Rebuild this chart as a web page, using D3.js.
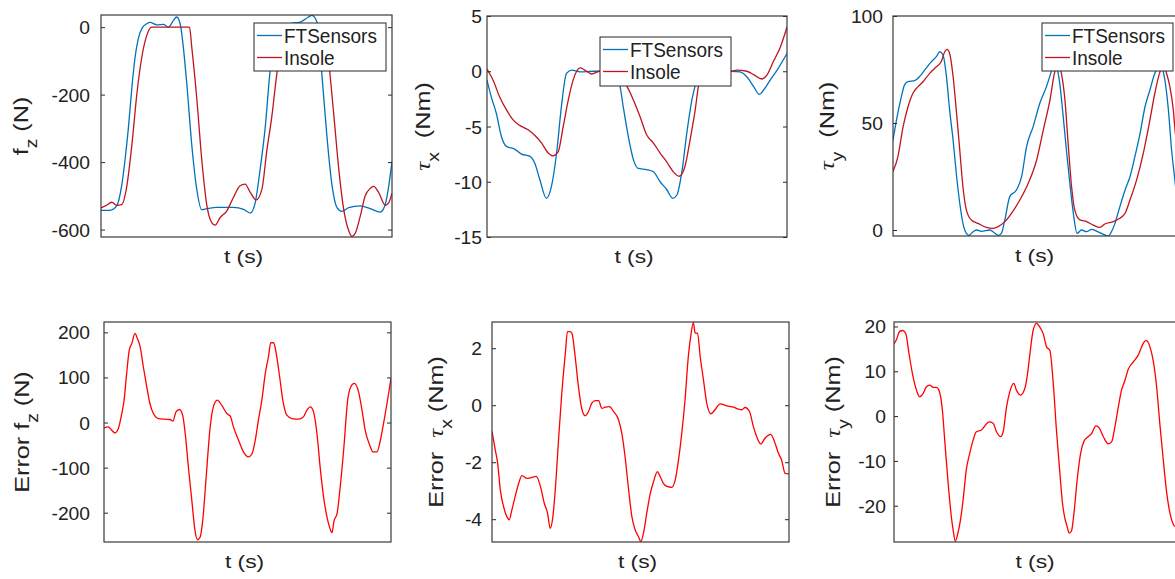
<!DOCTYPE html>
<html>
<head>
<meta charset="utf-8">
<script src="https://cdn.jsdelivr.net/npm/d3@7"></script>
<style>
  body { margin: 0; background: #fff; }
  text { font-family: "Liberation Sans", Arial, sans-serif; fill: #222; }
</style>
</head>
<body>
<svg id="fig"></svg>
<script>
// time is in % of the plotted window

var fzFT = [[0,-543],[3.1,-543],[5.4,-530],[7.1,-470],[8.3,-390],[9.4,-300],[10.6,-180],[11.7,-90],[12.8,-35],[14.3,0],
  [15.7,10],[16.9,14],[19.2,7],[21.4,8],[23.2,0],[24.9,20],[26.0,30],[27.2,10],[28.3,-60],[29.5,-170],
  [31.2,-350],[32.9,-480],[34.6,-541],[36.4,-538],[39.8,-534],[45.5,-534],[49.0,-540],[51.3,-551],[53.0,-520],[54.7,-420],
  [56.4,-300],[58.1,-132],[59.9,-40],[62.2,0],[65.0,10],[68.5,15],[71.3,30],[72.5,35],[74.2,15],[75.9,-140],
  [77.6,-320],[79.4,-470],[81.1,-535],[82.8,-546],[85.1,-535],[89.1,-530],[92.5,-538],[96.0,-548],[97.7,-525],[98.9,-470],[100,-398]];
var fzInsole = [[0,-536],[1.9,-528],[3.7,-519],[5.4,-528],[7.1,-526],[8.8,-475],[10.6,-350],[12.3,-200],[14.0,-90],[15.7,-25],
  [17.4,0],[30.4,0],[31.2,-60],[32.9,-210],[34.6,-390],[36.4,-530],[38.1,-580],[39.2,-587],[40.9,-565],[43.2,-545],
  [45.5,-505],[47.8,-470],[49.5,-465],[51.3,-490],[53.3,-512],[55.3,-480],[57.0,-365],[58.7,-265],[60.4,-140],[62.2,-40],
  [63.9,0],[76.5,0],[78.2,-100],[80.0,-260],[81.7,-420],[83.4,-540],[85.2,-605],[86.2,-620],[87.4,-610],[89.1,-560],
  [90.8,-500],[92.5,-478],[93.7,-472],[95.4,-490],[97.7,-528],[98.9,-520],[100,-492]];

var txFT = [[0,-0.8],[1.4,-2.3],[3.1,-3.8],[4.8,-5.9],[6.5,-6.8],[9.2,-7.05],[11.5,-7.5],[14.3,-7.7],[15.9,-8.3],[17.6,-9.8],
  [19.8,-11.5],[21.5,-10.4],[23.2,-7.4],[24.8,-3.2],[26.5,-0.2],[28.2,0.1],[31.0,-0.05],[35.4,0],[39.9,0],[42.7,-0.35],
  [44.3,-1.3],[45.4,-3.2],[47.1,-5.9],[48.8,-8.0],[50.4,-8.8],[53.2,-8.9],[55.5,-9.1],[57.7,-10.0],[59.9,-10.7],[61.9,-11.5],
  [63.3,-11.2],[64.9,-9.2],[66.6,-5.6],[68.3,-2.6],[69.4,-1.3],[71.0,-0.2],[74.4,0],[81.4,0],[84.4,-0.05],[86.6,-0.5],
  [88.9,-1.4],[90.8,-2.1],[92.2,-1.7],[94.4,-0.8],[96.7,0.1],[100,1.6]];
var txInsole = [[0,0.2],[2.0,-0.8],[4.2,-2.3],[6.5,-3.5],[8.7,-4.4],[10.9,-4.9],[13.7,-5.3],[15.9,-5.8],[18.2,-6.5],[20.4,-7.4],
  [22.0,-7.65],[23.7,-7.3],[25.4,-5.0],[27.1,-2.6],[28.7,-0.8],[31.0,0.3],[32.6,0.1],[34.9,-0.25],[37.6,0],[41.0,0],
  [43.2,-0.3],[44.9,-0.8],[46.5,-1.3],[48.8,-2.6],[51.0,-4.1],[53.2,-5.75],[55.5,-6.5],[57.7,-7.4],[59.9,-8.2],[62.1,-9.1],
  [64.1,-9.5],[66.0,-8.6],[67.7,-6.2],[69.4,-3.5],[70.5,-1.3],[72.2,0],[81.4,0],[83.3,0.1],[86.6,0],[88.9,-0.3],
  [91.6,-0.7],[93.3,-0.35],[95.5,0.9],[97.8,2.2],[100,4.0]];

var tyFT = [[0,42],[1.2,51.4],[2.9,62.3],[4.0,67.8],[5.2,69.3],[7.5,69.8],[9.2,71.7],[11.0,74.8],[13.3,78.7],[15.0,81],
  [16.2,83.3],[17.3,81.8],[18.5,71.7],[19.6,56],[20.8,42],[21.9,26.5],[23.1,12.5],[24.2,3.1],[25.4,-1.6],[26.3,-2.5],
  [27.7,-0.8],[28.9,0],[30.6,-0.6],[33.5,0],[34.6,-0.8],[36.4,-2.5],[37.5,-1.6],[38.7,4.7],[40.4,15.6],[42.7,18.7],
  [44.5,24.9],[46.2,38.9],[48.5,48.3],[50.8,59.2],[53.1,67],[54.8,74],[56.0,78],[57.2,73],[57.7,68.5],[58.9,53],
  [60.0,37.4],[61.2,21.8],[62.4,7.8],[63.7,-1.6],[65.2,0],[67.0,-0.8],[68.7,0.3],[70.4,-0.5],[73.3,-2.3],[74.5,-2.8],
  [75.6,-0.8],[76.8,3.1],[78.5,10.9],[80.3,18.7],[82.0,24.9],[83.7,34.3],[85.5,45.2],[87.2,57.6],[88.9,65.4],[90.6,73.2],
  [92.4,77],[93.5,74],[95.3,56],[96.4,37.4],[97.6,22.6],[98.7,8],[100,0]];
var tyInsole = [[0,27.3],[1.7,34.3],[3.5,48.3],[5.2,57.6],[6.9,63.9],[8.7,67],[10.4,69.3],[12.7,73.2],[15.0,76.3],[16.7,78.7],
  [17.9,83.3],[18.7,84.4],[19.6,82.5],[20.8,71.7],[21.9,56],[23.1,37.4],[24.2,20.2],[25.4,9.3],[27.1,4.7],[29.4,3.1],
  [32.3,1.2],[34.6,0.8],[36.4,1.6],[38.7,3.9],[41.0,7.8],[43.9,14],[46.8,21.8],[49.7,32.7],[52.0,46.7],[54.3,60.7],
  [56.0,74],[57.2,77],[58.3,73],[59.5,60.7],[60.6,40.5],[61.8,20.2],[62.9,9.3],[64.7,4.7],[67.0,3.9],[69.3,2.3],
  [71.6,1.2],[73.3,2.8],[76.2,3.9],[78.5,5.5],[80.3,7.8],[82.0,14],[84.3,23.4],[86.6,35.8],[88.9,51.4],[90.6,63.9],
  [92.4,74],[93.5,77],[94.7,73],[95.8,67],[97.0,56],[97.6,46.7],[98.7,35],[100,25]];

var errFz = [[0,-11.9],[1.5,-9.6],[2.7,-17],[3.8,-23],[5.0,-13.3],[6.2,20],[7.0,49.6],[7.9,108.9],[8.8,160.7],[9.7,175.6],
  [10.8,197.8],[11.6,186.7],[12.6,168],[13.7,123.7],[14.9,79.3],[16.0,42.2],[17.2,20],[19.0,8.9],[21.3,7.4],[23.0,6.7],
  [24.0,3],[25.1,23.7],[26.3,28.9],[27.4,16.3],[28.3,-24.4],[29.4,-98.5],[30.6,-172.6],[31.7,-239.3],[32.6,-260],[33.5,-254],
  [34.4,-217],[35.6,-120.7],[37.0,-9.6],[38.1,34.8],[39.5,49.6],[41.0,38.5],[42.8,20],[44.0,14],[45.1,-9.6],[46.9,-39.3],
  [48.6,-65.2],[50.3,-76.3],[51.5,-70.4],[52.7,-39.3],[53.8,5.2],[55.0,49.6],[56.2,108.9],[57.3,145.9],[58.1,177],[59.1,177],
  [60.0,153.3],[61.2,101.5],[62.3,49.6],[63.7,16.3],[65.5,8.9],[67.8,7.4],[69.5,12.6],[70.7,27.4],[71.9,34.8],[73.0,23.7],
  [74.2,-24.4],[75.3,-98.5],[76.5,-165],[77.7,-209.6],[78.6,-231.9],[79.4,-244.4],[80.2,-217],[81.2,-202],[82.3,-143],[83.5,-61.5],
  [84.9,49.6],[86.0,79.3],[87.2,86.7],[88.7,68.1],[89.9,27.4],[91.0,-17],[92.6,-50.4],[93.7,-65.2],[95.1,-65.2],[96.3,-39.3],
  [97.4,-2.2],[98.6,42.2],[100,97.8]];

var errTx = [[0,-0.92],[1.1,-1.57],[1.9,-2.03],[2.8,-2.97],[3.9,-3.56],[5.0,-3.91],[5.8,-4.02],[6.7,-3.67],[7.8,-3.2],[9.0,-2.74],
  [10.1,-2.47],[11.8,-2.57],[13.5,-2.53],[14.9,-2.5],[16.3,-2.85],[17.6,-3.44],[18.7,-3.79],[19.6,-4.32],[20.5,-3.91],[21.3,-2.97],
  [22.4,-1.22],[23.5,0.42],[24.7,1.83],[25.4,2.58],[26.3,2.58],[26.9,2.53],[28.0,1.71],[29.1,0.65],[30.3,-0.16],[31.4,-0.37],
  [32.5,-0.22],[33.6,0.07],[34.8,0.16],[35.9,0.16],[37.0,-0.11],[38.1,-0.07],[39.6,-0.05],[40.9,-0.22],[42.6,-0.51],[43.7,-0.98],
  [44.8,-1.8],[46.0,-2.97],[47.1,-3.91],[48.2,-4.37],[49.3,-4.61],[50.1,-4.78],[51.0,-4.49],[52.1,-3.79],[53.3,-3.09],[54.4,-2.68],
  [55.7,-2.33],[56.6,-2.5],[57.7,-2.74],[58.9,-2.85],[60.5,-2.88],[61.7,-2.62],[62.8,-1.92],[63.9,-0.98],[65.0,0.19],[66.1,1.71],
  [66.9,2.41],[67.8,2.9],[68.4,2.53],[69.2,2.53],[70.1,1.71],[71.2,0.89],[72.3,0.07],[73.7,-0.3],[75.1,-0.16],[76.8,0.05],
  [79.0,-0.02],[81.3,-0.07],[83.0,-0.14],[84.1,-0.16],[85.2,-0.08],[86.7,-0.22],[88.0,-0.75],[89.1,-1.1],[90.5,-1.36],[91.9,-1.16],
  [93.8,-1.02],[95.3,-1.33],[96.4,-1.68],[97.5,-1.92],[98.7,-2.39],[100,-2.41]];

var errTy = [[0,16.1],[0.8,17],[2.0,18.9],[3.1,19.1],[4.1,18.4],[5.2,14],[6.4,9.5],[7.8,5.8],[8.9,4.3],[10.1,5],
  [11.2,6.5],[12.4,6.9],[13.6,6.4],[14.7,6.4],[15.6,5.8],[16.8,1.3],[17.7,-6.1],[18.8,-15],[19.9,-22.4],[20.5,-25.3],
  [21.3,-27.9],[22.2,-26.1],[23.1,-23.1],[24.0,-18.7],[25.1,-12],[26.3,-8.3],[27.5,-5.3],[28.6,-3.5],[30.4,-3.1],[31.5,-2.2],
  [33.0,-1.3],[34.4,-1.6],[35.6,-3.5],[37.0,-4.6],[37.9,-3.5],[39.1,2.1],[40.2,5.4],[41.6,7.3],[42.5,5.8],[43.9,4.7],
  [45.4,6.1],[46.2,8.7],[47.2,13.9],[48.3,19.1],[49.5,20.7],[50.6,19.9],[51.8,18.4],[53.0,15.4],[54.1,14.7],[55.3,7.3],
  [56.4,-3.1],[57.6,-12.7],[58.5,-19.4],[59.3,-22.7],[60.1,-24.6],[60.8,-26.1],[61.6,-25.7],[62.5,-21.6],[63.6,-14.2],[64.8,-8.3],
  [65.9,-5.7],[67.4,-4.6],[68.6,-3.9],[70.1,-2.2],[71.3,-2.7],[72.7,-4.6],[74.4,-6.2],[75.6,-5.7],[76.7,-2.4],[77.9,2.1],
  [79.0,5.8],[80.2,8],[81.3,10.4],[83.1,12.1],[84.8,13.6],[86.6,16.3],[87.5,16.9],[88.9,15.4],[90.0,12.4],[91.2,6.5],
  [92.4,-2.4],[93.5,-9.8],[94.7,-17.2],[95.8,-21.6],[96.8,-23.9],[97.6,-24.6],[98.7,-24],[100,-22]];

// axis limits and ticks
var fzLim = [-622, 36],   fzTicks = [-600, -400, -200, 0];
var txLim = [-15, 5],     txTicks = [-15, -10, -5, 0, 5];
var tyLim = [-2.8, 100],  tyTicks = [0, 50, 100];
var efzLim = [-265, 223], efzTicks = [-200, -100, 0, 100, 200];
var etxLim = [-4.8, 2.92], etxTicks = [-4, -2, 0, 2];
var etyLim = [-28.1, 21], etyTicks = [-20, -10, 0, 10, 20];
var legendNames = ['FTSensors', 'Insole'];

var blue = '#0072bd', insoleRed = '#c0141e', errRed = '#ff0000';

var W = 1175, H = 579;
var svg = d3.select('#fig').attr('width', W).attr('height', H);

var panels = [
  {box: [101, 392, 15, 237], lim: fzLim, ticks: fzTicks, gap: 11, labX: 28,
   label: [['f', 'n'], ['z', 's'], [' (N)', 'n']],
   series: [[fzFT, blue], [fzInsole, insoleRed]], legend: [254, 23, 132, 48]},
  {box: [487, 787, 16, 237], lim: txLim, ticks: txTicks, gap: 5, labX: 430,
   label: [['\u03c4', 'g'], ['x', 's'], ['  (Nm)', 'n']],
   series: [[txFT, blue], [txInsole, insoleRed]], legend: [600, 37, 131, 49]},
  {box: [893, 1182, 16, 236], lim: tyLim, ticks: tyTicks, gap: 10, labX: 834,
   label: [['\u03c4', 'g'], ['y', 's'], ['  (Nm)', 'n']],
   series: [[tyFT, blue], [tyInsole, insoleRed]], legend: [1042, 23, 131, 48]},
  {box: [104, 391, 322, 542], lim: efzLim, ticks: efzTicks, gap: 14, labX: 29,
   label: [['Error f', 'n'], ['z', 's'], [' (N)', 'n']],
   series: [[errFz, errRed]]},
  {box: [492, 789, 322, 542], lim: etxLim, ticks: etxTicks, gap: 10, labX: 443,
   label: [['Error  ', 'n'], ['\u03c4', 'g'], ['x', 's'], [' (Nm)', 'n']],
   series: [[errTx, errRed]]},
  {box: [894, 1182, 322, 542], lim: etyLim, ticks: etyTicks, gap: 8, labX: 840,
   label: [['Error  ', 'n'], ['\u03c4', 'g'], ['y', 's'], [' (Nm)', 'n']],
   series: [[errTy, errRed]]}
];

panels.forEach(drawPanel);

function drawPanel(p, i) {
  var x0 = p.box[0], x1 = p.box[1], y0 = p.box[2], y1 = p.box[3];
  var x = d3.scaleLinear().domain([0, 100]).range([x0, x1]);
  var y = d3.scaleLinear().domain(p.lim).range([y1, y0]);

  var g = svg.append('g');

  svg.append('clipPath').attr('id', 'clip' + i)
    .append('rect').attr('x', x0).attr('y', y0).attr('width', x1 - x0).attr('height', y1 - y0);

  var line = d3.line()
    .x(function(d) { return x(d[0]); })
    .y(function(d) { return y(d[1]); })
    .curve(d3.curveMonotoneX);

  p.series.forEach(function(s) {
    g.append('path')
      .attr('clip-path', 'url(#clip' + i + ')')
      .attr('d', line(s[0]))
      .attr('fill', 'none')
      .attr('stroke', s[1])
      .attr('stroke-width', 1.3);
  });

  // left axis, ticks point inward like matlab
  var left = g.append('g').attr('transform', 'translate(' + x0 + ',0)')
    .call(d3.axisLeft(y).tickValues(p.ticks).tickSize(-4).tickSizeOuter(0)
      .tickFormat(function(d) { return String(d); }));
  left.select('.domain').remove();
  left.selectAll('line').attr('stroke', '#262626');
  left.selectAll('text')
    .attr('x', null).attr('dy', null)
    .attr('transform', 'translate(' + (-p.gap) + ',6.5) scale(1.1,1)')
    .attr('fill', '#222')
    .style('font-size', '17.5px')
    .style('font-family', '"Liberation Sans", Arial, sans-serif');

  var right = g.append('g').attr('transform', 'translate(' + x1 + ',0)')
    .call(d3.axisRight(y).tickValues(p.ticks).tickSize(-4).tickSizeOuter(0).tickFormat(''));
  right.select('.domain').remove();
  right.selectAll('line').attr('stroke', '#262626');

  g.append('rect')
    .attr('x', x0).attr('y', y0).attr('width', x1 - x0).attr('height', y1 - y0)
    .attr('fill', 'none').attr('stroke', '#3a3a3a').attr('stroke-width', 1.2);

  // x label
  var xl = (x0 + x1) / 2 - 3;
  var xlY = y1 + 26;
  g.append('text')
    .attr('transform', 'translate(' + xl + ',' + xlY + ') scale(1.2,1)')
    .attr('text-anchor', 'middle')
    .style('font-size', '19px')
    .text('t (s)');

  // y label with subscript
  var yc = (y0 + y1) / 2;
  var yt = g.append('text')
    .attr('transform', 'translate(' + p.labX + ',' + yc + ') rotate(-90) scale(1.2,1)')
    .attr('text-anchor', 'middle')
    .style('font-size', '21px')
    .style('white-space', 'pre');
  var shifted = false;
  p.label.forEach(function(part) {
    var ts = yt.append('tspan').text(part[0]);
    if (part[1] === 'g') {
      ts.style('font-family', '"Liberation Serif", serif').style('font-style', 'italic');
    }
    if (part[1] === 's') {
      ts.attr('dy', 9).style('font-size', '16px');
      shifted = true;
    } else if (shifted) {
      ts.attr('dy', -9);
      shifted = false;
    }
  });

  if (p.legend) drawLegend(g, p);
}

function drawLegend(g, p) {
  var lx = p.legend[0], ly = p.legend[1], lw = p.legend[2], lh = p.legend[3];
  var lg = g.append('g');
  lg.append('rect')
    .attr('x', lx).attr('y', ly).attr('width', lw).attr('height', lh)
    .attr('fill', '#fff').attr('stroke', '#262626').attr('stroke-width', 1);
  p.series.forEach(function(s, k) {
    var cy = ly + 12.5 + k * 22;
    lg.append('line')
      .attr('x1', lx + 3).attr('x2', lx + 28)
      .attr('y1', cy).attr('y2', cy)
      .attr('stroke', s[1]).attr('stroke-width', 1.3);
    lg.append('text')
      .attr('transform', 'translate(' + (lx + 30) + ',' + (cy + 7.5) + ') scale(0.95,1)')
      .style('font-size', '20px')
      .text(legendNames[k]);
  });
}
</script>
</body>
</html>
